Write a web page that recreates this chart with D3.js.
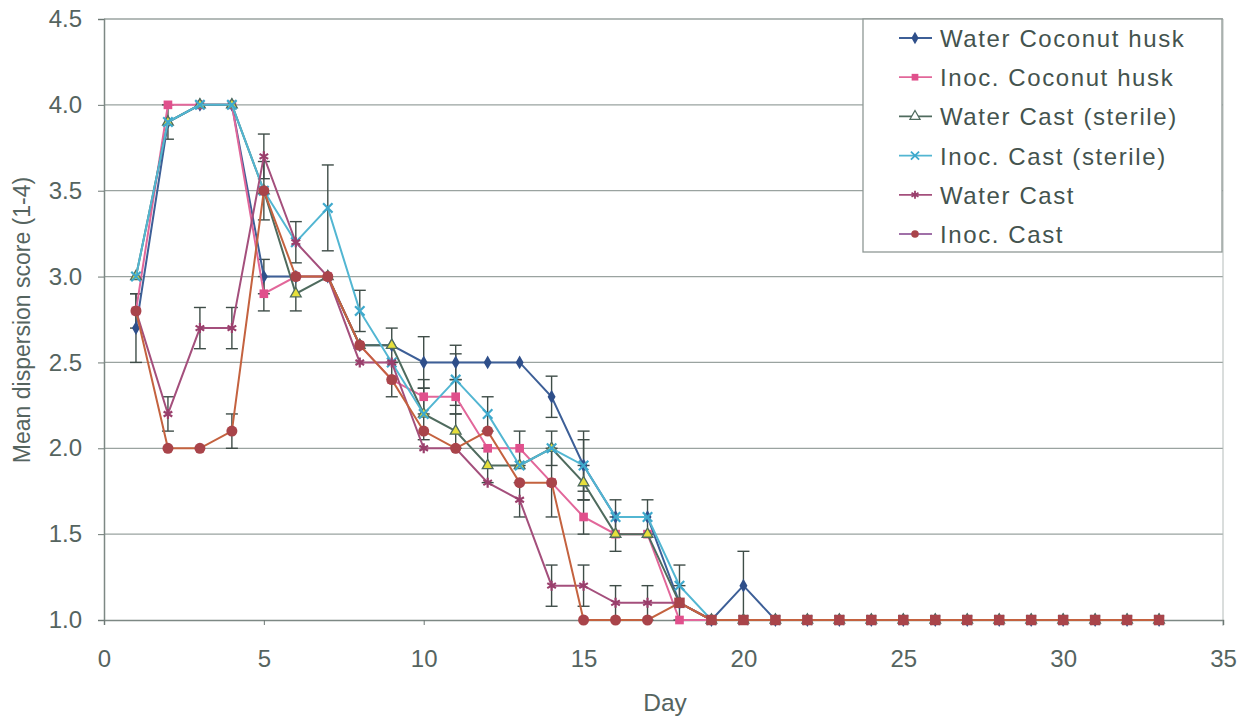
<!DOCTYPE html>
<html>
  <head>
    <title>Dispersion score</title>
    <script src="https://d3js.org/d3.v7.min.js"></script>
    <style>
      body { margin: 0; background: #fff; }
      text { font-family: "Liberation Sans", Arial, sans-serif; }
    </style>
  </head>

  <body>
    <svg id="plot" width="1252" height="725"></svg>

    <script>
      // days 1..33
      var days = d3.range(1, 34);
      var seriesNames = ["Water Coconut husk", "Inoc. Coconut husk", "Water Cast (sterile)",
                         "Inoc. Cast (sterile)", "Water Cast", "Inoc. Cast"];
      var xTicks = [0, 5, 10, 15, 20, 25, 30, 35];
      var yTicks = [1.0, 1.5, 2.0, 2.5, 3.0, 3.5, 4.0, 4.5];

      // values, one per day
      var waterHusk = [2.7, 3.9, 4.0, 4.0, 3.0, 3.0, 3.0, 2.6, 2.6, 2.5, 2.5, 2.5, 2.5, 2.3, 1.9, 1.6, 1.6, 1.1, 1.0, 1.2, 1.0,
                       1, 1, 1, 1, 1, 1, 1, 1, 1, 1, 1, 1];
      var inocHusk = [2.8, 4.0, 4.0, 4.0, 2.9, 3.0, 3.0, 2.6, 2.4, 2.3, 2.3, 2.0, 2.0, 1.8, 1.6, 1.5, 1.5, 1.0, 1.0, 1.0, 1.0,
                      1, 1, 1, 1, 1, 1, 1, 1, 1, 1, 1, 1];
      var waterSterile = [3.0, 3.9, 4.0, 4.0, 3.5, 2.9, 3.0, 2.6, 2.6, 2.2, 2.1, 1.9, 1.9, 2.0, 1.8, 1.5, 1.5, 1.1, 1.0, 1.0, 1.0,
                          1, 1, 1, 1, 1, 1, 1, 1, 1, 1, 1, 1];
      var inocSterile = [3.0, 3.9, 4.0, 4.0, 3.5, 3.2, 3.4, 2.8, 2.5, 2.2, 2.4, 2.2, 1.9, 2.0, 1.9, 1.6, 1.6, 1.2, 1.0, 1.0, 1.0,
                         1, 1, 1, 1, 1, 1, 1, 1, 1, 1, 1, 1];
      var waterCast = [2.8, 2.2, 2.7, 2.7, 3.7, 3.2, 3.0, 2.5, 2.5, 2.0, 2.0, 1.8, 1.7, 1.2, 1.2, 1.1, 1.1, 1.1, 1.0, 1.0, 1.0,
                       1, 1, 1, 1, 1, 1, 1, 1, 1, 1, 1, 1];
      var inocCast = [2.8, 2.0, 2.0, 2.1, 3.5, 3.0, 3.0, 2.6, 2.4, 2.1, 2.0, 2.1, 1.8, 1.8, 1.0, 1.0, 1.0, 1.1, 1.0, 1.0, 1.0,
                      1, 1, 1, 1, 1, 1, 1, 1, 1, 1, 1, 1];

      // error bar half-widths (0 = none drawn)
      var errWaterHusk = [0.2, 0, 0, 0, 0.1, 0, 0, 0, 0, 0.15, 0.1, 0, 0, 0.12, 0.2, 0, 0, 0, 0, 0.2];
      var errInocHusk = [0.1, 0, 0, 0, 0.1, 0, 0, 0, 0.1, 0.1, 0.1, 0, 0.1, 0, 0.1];
      var errWaterSterile = [0, 0.1, 0, 0, 0, 0.1, 0, 0, 0.1, 0, 0.1, 0.1, 0, 0.1, 0.1, 0.1, 0, 0.1];
      var errInocSterile = [0, 0, 0, 0, 0, 0.12, 0.25, 0.12, 0, 0.15, 0.15, 0.1, 0, 0, 0.15, 0.1, 0.1, 0.12];
      var errWaterCast = [0, 0.1, 0.12, 0.12, 0.13, 0, 0, 0, 0, 0, 0, 0, 0.1, 0.12, 0.12, 0.1, 0.1];
      var errInocCast = [0, 0, 0, 0.1, 0.17, 0, 0, 0, 0, 0, 0, 0, 0, 0.2];

      var values = [waterHusk, inocHusk, waterSterile, inocSterile, waterCast, inocCast];
      var errors = [errWaterHusk, errInocHusk, errWaterSterile, errInocSterile, errWaterCast, errInocCast];
      var lineColors = ["#3d5f97", "#e2679a", "#4f6b5e", "#52b6d2", "#a44f7c", "#c4623f"];
      var markColors = ["#2f4f8a", "#e0508c", "#4f6b5e", "#3fa9cc", "#9a3f6c", "#a9444a"];
      var symbols = [d3.symbolDiamond, d3.symbolSquare, d3.symbolTriangle, d3.symbolX, d3.symbolAsterisk, d3.symbolCircle];
      var strokeOnly = [false, false, false, true, true, false];

      var svg = d3.select("#plot");
      var x = d3.scaleLinear().domain([0, 35]).range([104, 1223]);
      var y = d3.scaleLinear().domain([1, 4.5]).range([620, 19]);

      // grid
      svg.append("g")
        .selectAll("line")
        .data(yTicks.slice(1))
        .join("line")
        .attr("x1", x(0)).attr("x2", x(35))
        .attr("y1", (d) => y(d)).attr("y2", (d) => y(d))
        .attr("stroke", "#9aa3a0").attr("stroke-width", 1.3);
      svg.append("line")
        .attr("x1", x(35)).attr("x2", x(35)).attr("y1", y(4.5)).attr("y2", y(1) + 6)
        .attr("stroke", "#b5bcba");

      // axes
      var yAxis = svg.append("g")
        .attr("transform", "translate(" + x(0) + ",0)")
        .call(d3.axisLeft(y).tickValues(yTicks).tickFormat(d3.format(".1f")).tickSize(6).tickPadding(16));
      var xAxis = svg.append("g")
        .attr("transform", "translate(0," + y(1) + ")")
        .call(d3.axisBottom(x).tickValues(xTicks).tickSize(5).tickPadding(25));
      [yAxis, xAxis].forEach(function (a) {
        a.select(".domain").attr("stroke", "#7d8884").attr("stroke-width", 1.5);
        a.selectAll(".tick line").attr("stroke", "#6d7874");
        a.selectAll("text").attr("font-size", 24).attr("fill", "#55645f");
      });

      svg.append("text")
        .attr("x", 665).attr("y", 711)
        .attr("text-anchor", "middle").attr("font-size", 24.5).attr("fill", "#55645f")
        .text("Day");
      svg.append("text")
        .attr("transform", "translate(30,320) rotate(-90)")
        .attr("text-anchor", "middle").attr("font-size", 23).attr("fill", "#55645f")
        .text("Mean dispersion score (1-4)");

      // error bars
      values.forEach(function (vals, s) {
        var eb = errors[s].map((e, i) => ({ day: days[i], v: vals[i], e: e })).filter((d) => d.e > 0);
        var g = svg.append("g").attr("stroke", "#3f4d48").attr("stroke-width", 1.4);
        g.selectAll("line.v").data(eb).join("line")
          .attr("x1", (d) => x(d.day)).attr("x2", (d) => x(d.day))
          .attr("y1", (d) => y(d.v - d.e)).attr("y2", (d) => y(d.v + d.e));
        g.selectAll("line.t").data(eb).join("line")
          .attr("x1", (d) => x(d.day) - 6).attr("x2", (d) => x(d.day) + 6)
          .attr("y1", (d) => y(d.v + d.e)).attr("y2", (d) => y(d.v + d.e));
        g.selectAll("line.b").data(eb).join("line")
          .attr("x1", (d) => x(d.day) - 6).attr("x2", (d) => x(d.day) + 6)
          .attr("y1", (d) => y(d.v - d.e)).attr("y2", (d) => y(d.v - d.e));
      });

      // lines and markers
      var line = d3.line().x((d) => x(d[0])).y((d) => y(d[1]));
      var marker = function (s, size) {
        return d3.symbol().type(symbols[s]).size(size)();
      };
      var markerSize = [55, 75, 50, 60, 70, 95];

      values.forEach(function (vals, s) {
        var pts = days.map((d, i) => [d, vals[i]]);
        svg.append("path")
          .datum(pts)
          .attr("d", line)
          .attr("fill", "none")
          .attr("stroke", lineColors[s])
          .attr("stroke-width", 2);
        svg.append("g")
          .selectAll("path")
          .data(pts)
          .join("path")
          .attr("transform", (d) => "translate(" + x(d[0]) + "," + y(d[1]) + ")")
          // the scanned chart shows the late Inoc. Cast points as squares
          .attr("d", (d) => (s === 5 && d[0] >= 18 ? d3.symbol().type(d3.symbolSquare).size(110)() : marker(s, markerSize[s])))
          .attr("fill", strokeOnly[s] ? "none" : (s === 2 ? "#e6df3c" : markColors[s]))
          .attr("stroke", s === 2 ? "#4f6b5e" : (strokeOnly[s] ? markColors[s] : "none"))
          .attr("stroke-width", strokeOnly[s] ? 2.2 : 1.3);
      });

      // legend
      var lg = svg.append("g").attr("transform", "translate(863,19)");
      lg.append("rect")
        .attr("width", 359).attr("height", 233)
        .attr("fill", "#fff").attr("stroke", "#8f9895").attr("stroke-width", 1.3);
      seriesNames.forEach(function (name, s) {
        var yy = 19 + s * 39.2;
        lg.append("line")
          .attr("x1", 36).attr("x2", 69).attr("y1", yy).attr("y2", yy)
          .attr("stroke", s === 5 ? "#a070a8" : lineColors[s]).attr("stroke-width", 1.8);
        lg.append("path")
          .attr("transform", "translate(52," + yy + ")")
          .attr("d", marker(s, 45))
          .attr("fill", strokeOnly[s] ? "none" : (s === 2 ? "#fff" : markColors[s]))
          .attr("stroke", s === 2 ? "#4f6b5e" : (strokeOnly[s] ? markColors[s] : "none"))
          .attr("stroke-width", strokeOnly[s] ? 1.8 : 1.2);
        lg.append("text")
          .attr("x", 77).attr("y", yy + 9)
          .attr("font-size", 24).attr("letter-spacing", 1.6).attr("fill", "#44534e")
          .text(name);
      });
    </script>
  </body>
</html>
